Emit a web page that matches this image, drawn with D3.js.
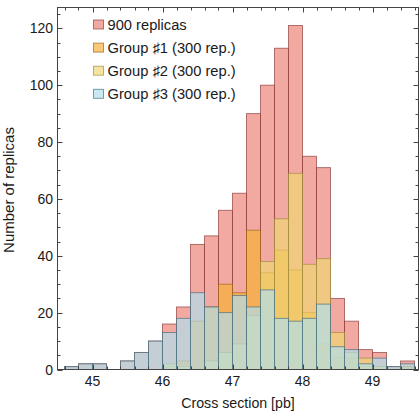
<!DOCTYPE html>
<html>
<head>
<meta charset="utf-8">
<script src="https://cdn.jsdelivr.net/npm/d3@7"></script>
<style>
  html, body { margin: 0; padding: 0; background: #fff; }
  svg { display: block; }
</style>
</head>
<body>
<script>
// Histogram bins (left edges, pb) and bin width
const binLeft = [44.6, 44.8, 45.0, 45.2, 45.4, 45.6, 45.8, 46.0, 46.2, 46.4, 46.6, 46.8, 47.0,
                 47.2, 47.4, 47.6, 47.8, 48.0, 48.2, 48.4, 48.6, 48.8, 49.0, 49.2, 49.4];
const binWidth = 0.2;

// Counts per bin
const replicas900 = [1, 2, 2, 0, 3, 6, 10, 16, 22, 44, 47, 56, 62, 90, 100, 113, 121, 75, 71, 25, 17, 7, 6, 1, 3];
const group1      = [0, 0, 0, 0, 0, 0, 0, 1, 3, 17, 22, 30, 27, 49, 34, 42, 35, 20, 9, 4, 4, 1, 1, 0, 1];
const group2      = [0, 0, 0, 0, 0, 0, 0, 2, 1, 0, 3, 6, 9, 19, 38, 53, 69, 37, 39, 13, 6, 4, 1, 0, 0];
const group3      = [1, 2, 2, 0, 3, 6, 10, 13, 18, 27, 22, 20, 26, 22, 28, 18, 17, 18, 23, 8, 7, 2, 4, 1, 2];

const seriesNames = ["900 replicas", "Group \u266F1 (300 rep.)", "Group \u266F2 (300 rep.)", "Group \u266F3 (300 rep.)"];
const xTicks = [45, 46, 47, 48, 49];
const yTicks = [0, 20, 40, 60, 80, 100, 120];
const xTitle = "Cross section [pb]";
const yTitle = "Number of replicas";

// Layer styles: semi-transparent fills drawn in order, each over the previous
const fills   = ["rgb(235,127,115)", "rgb(247,175,52)", "rgb(239,214,115)", "rgb(175,224,238)"];
const strokes = ["rgb(140,60,55)", "rgb(160,100,30)", "rgb(160,140,60)", "rgb(70,110,125)"];
const fillOpacity = 0.67;

const W = 419, H = 411;
const svg = d3.select("body").append("svg").attr("width", W).attr("height", H);

const x = d3.scaleLinear().domain([44.5, 49.66]).range([57.5, 418.7]);
const y = d3.scaleLinear().domain([0, 127.4]).range([369.5, 7.3]);

const fontFamily = "'Liberation Sans', Arial, Helvetica, sans-serif";

// Bars, one overlapped layer per series
const series = [replicas900, group1, group2, group3];
series.forEach((vals, si) => {
  svg.append("g")
    .selectAll("rect")
    .data(binLeft.map((b, i) => ({ b, v: vals[i] })).filter(d => d.v > 0))
    .join("rect")
    .attr("x", d => x(d.b))
    .attr("width", d => x(d.b + binWidth) - x(d.b))
    .attr("y", d => y(d.v))
    .attr("height", d => y(0) - y(d.v))
    .attr("fill", fills[si])
    .attr("fill-opacity", fillOpacity)
    .attr("stroke", strokes[si])
    .attr("stroke-opacity", 0.75)
    .attr("stroke-width", 0.9);
});

// Frame
const fx0 = 57.5, fx1 = 418.5, fy0 = 7.5, fy1 = 369.5;
const frameColor = "#444";
svg.append("rect")
  .attr("x", fx0).attr("y", fy0)
  .attr("width", fx1 - fx0).attr("height", fy1 - fy0)
  .attr("fill", "none").attr("stroke", frameColor).attr("stroke-width", 1);

// Ticks (inward on all four sides)
const tg = svg.append("g").attr("stroke", frameColor).attr("stroke-width", 1);
const xMinor = d3.range(44.6, 49.65, 0.2).map(v => +v.toFixed(1));
xMinor.forEach(v => {
  const major = xTicks.includes(v);
  const len = major ? 5 : 3;
  const px = Math.round(x(v)) + 0.5;
  tg.append("line").attr("x1", px).attr("x2", px).attr("y1", fy1).attr("y2", fy1 - len);
  tg.append("line").attr("x1", px).attr("x2", px).attr("y1", fy0).attr("y2", fy0 + len);
});
const yMinor = d3.range(0, 126, 5);
yMinor.forEach(v => {
  const major = yTicks.includes(v);
  const len = major ? 5 : 3;
  const py = Math.round(y(v)) + 0.5;
  tg.append("line").attr("x1", fx0).attr("x2", fx0 + len).attr("y1", py).attr("y2", py);
  tg.append("line").attr("x1", fx1).attr("x2", fx1 - len).attr("y1", py).attr("y2", py);
});

// Tick labels
svg.append("g").selectAll("text").data(xTicks).join("text")
  .attr("x", d => x(d)).attr("y", 386)
  .attr("text-anchor", "middle")
  .attr("font-family", fontFamily).attr("font-size", 14).attr("fill", "#1a1a1a")
  .text(d => d);
svg.append("g").selectAll("text").data(yTicks).join("text")
  .attr("x", 53).attr("y", d => y(d))
  .attr("dy", "0.36em")
  .attr("text-anchor", "end")
  .attr("font-family", fontFamily).attr("font-size", 14).attr("fill", "#1a1a1a")
  .text(d => d);

// Axis titles
svg.append("text")
  .attr("x", (fx0 + fx1) / 2).attr("y", 408)
  .attr("text-anchor", "middle")
  .attr("font-family", fontFamily).attr("font-size", 14.2).attr("fill", "#1a1a1a")
  .text(xTitle);
svg.append("text")
  .attr("transform", "translate(13.5, 190) rotate(-90)")
  .attr("text-anchor", "middle")
  .attr("font-family", fontFamily).attr("font-size", 15).attr("fill", "#1a1a1a")
  .text(yTitle);

// Legend
const lg = svg.append("g");
seriesNames.forEach((name, i) => {
  const ry = 20 + i * 23.1;
  lg.append("rect")
    .attr("x", 93.5).attr("y", ry).attr("width", 10).attr("height", 9)
    .attr("fill", fills[i]).attr("fill-opacity", fillOpacity)
    .attr("stroke", strokes[i]).attr("stroke-opacity", 0.75).attr("stroke-width", 0.9);
  lg.append("text")
    .attr("x", 107.5).attr("y", ry + 9.5)
    .attr("font-family", fontFamily).attr("font-size", 14.7).attr("fill", "#1a1a1a")
    .text(name);
});
</script>
</body>
</html>
